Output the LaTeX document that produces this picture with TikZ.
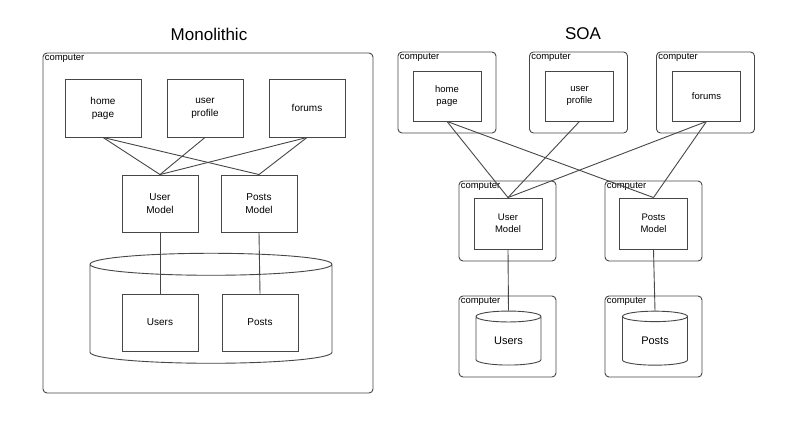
\documentclass[tikz,border=0pt]{standalone}
\usepackage{fontspec}
\setmainfont{Liberation Sans}
\usetikzlibrary{shapes.geometric}
\definecolor{lineish}{RGB}{70,70,70}

\begin{document}
\begin{tikzpicture}[
  x=1pt,
  y=-1pt,
  title/.style={
    font=\fontsize{17}{20}\selectfont
  },
  computer/.style={
    draw=lineish,
    line width=0.9pt,
    rounded corners=4pt,
    label={[anchor=north west,inner sep=2pt,font=\fontsize{9.5}{11}\selectfont]north west:computer}
  },
  service/.style={
    draw=lineish,
    line width=0.9pt,
    fill=white,
    align=center,
    inner sep=0pt,
    font=\fontsize{10}{13}\selectfont
  },
  store/.style={
    draw=lineish,
    line width=0.9pt,
    fill=white,
    cylinder,
    shape border rotate=90,
    inner sep=0pt
  },
  wire/.style={
    draw=lineish,
    line width=0.9pt
  }
]
\useasboundingbox (0,0) rectangle (801,442);

% Monolithic
\node[title] (monotitle) at (209,34) {Monolithic};
\node[computer, minimum width=330, minimum height=340] (monobox) at (208,223) {};

\node[service, minimum width=76, minimum height=58] (mhome) at (103,108) {home\\page};
\node[service, minimum width=76, minimum height=58] (mprofile) at (205,108) {user\\profile};
\node[service, minimum width=76, minimum height=58] (mforums) at (307,108) {forums};

\node[service, minimum width=76, minimum height=57] (musermodel) at (160,203.5) {User\\Model};
\node[service, minimum width=76, minimum height=57] (mpostsmodel) at (259,203.5) {Posts\\Model};

% the big store, its end size set by an empty rule
\node[store, aspect=0.11, minimum width=242, minimum height=110] (mdb) at (211,314) {\rule{200pt}{0pt}};
\node[service, minimum width=76, minimum height=57] (musers) at (160,322.5) {Users};
\node[service, minimum width=76, minimum height=57] (mposts) at (260,322.5) {Posts};

\foreach \top in {mhome,mforums} {
  \draw[wire] (\top.south) -- (musermodel.north);
  \draw[wire] (\top.south) -- (mpostsmodel.north);
}
\draw[wire] (mprofile.south) -- (musermodel.north);
\draw[wire] (musermodel.south) -- (musers.north);
\draw[wire] (mpostsmodel.south) -- (mposts.north);

% SOA
\node[title] (soatitle) at (583,34) {SOA};

\node[computer, minimum width=98, minimum height=81] (chome) at (447,92.5) {};
\node[computer, minimum width=98, minimum height=81] (cprofile) at (578.5,92.5) {};
\node[computer, minimum width=98, minimum height=81] (cforums) at (705.5,92.5) {};
\node[computer, minimum width=97, minimum height=80] (cusermodel) at (507.5,221) {};
\node[computer, minimum width=97, minimum height=80] (cpostsmodel) at (653.5,221) {};
\node[computer, minimum width=97, minimum height=81] (cusers) at (507.5,336.5) {};
\node[computer, minimum width=97, minimum height=81] (cposts) at (653.5,336.5) {};

\node[service, minimum width=68, minimum height=50, font=\fontsize{9.5}{12}\selectfont] (shome) at (447,96) {home\\page};
\node[service, minimum width=68, minimum height=50, font=\fontsize{9.5}{12}\selectfont] (sprofile) at (579.5,96) {user\\profile};
\node[service, minimum width=68, minimum height=50, font=\fontsize{9.5}{12}\selectfont] (sforums) at (706.5,96) {forums};
\node[service, minimum width=68, minimum height=51, font=\fontsize{9.5}{12}\selectfont] (susermodel) at (508,223.5) {User\\Model};
\node[service, minimum width=68, minimum height=51, font=\fontsize{9.5}{12}\selectfont] (spostsmodel) at (653.5,223.5) {Posts\\Model};

\node[store, aspect=0.38, minimum width=65, minimum height=54, font=\fontsize{11}{13}\selectfont] (susers) at (508.5,341) {Users};
\node[store, aspect=0.38, minimum width=65, minimum height=54, font=\fontsize{11}{13}\selectfont] (sposts) at (655,341) {Posts};

\foreach \top in {shome,sforums} {
  \draw[wire] (\top.south) -- (susermodel.north);
  \draw[wire] (\top.south) -- (spostsmodel.north);
}
\draw[wire] (sprofile.south) -- (susermodel.north);
\draw[wire] (susermodel.south) -- (susers.north);
\draw[wire] (spostsmodel.south) -- (sposts.north);

\end{tikzpicture}
\end{document}
